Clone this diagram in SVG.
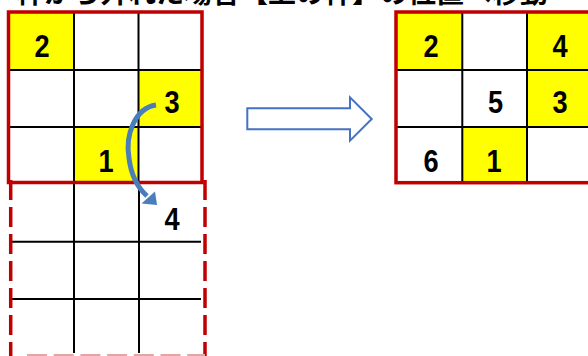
<svg xmlns="http://www.w3.org/2000/svg" width="588" height="356" viewBox="0 0 588 356">
<style>
.title{font-family:"Noto Sans CJK JP","Noto Sans CJK SC",sans-serif;font-size:28px;font-weight:bold;fill:#000}
.num{font-family:"Liberation Sans",Arial,sans-serif;font-size:32px;font-weight:bold;fill:#000;text-anchor:middle}
.yel{fill:#FFFF00}
.grid{stroke:#000;stroke-width:2;fill:none}
.frame{fill:none;stroke:#C00000;stroke-width:3.5}
.dash{fill:none;stroke:#C00000;stroke-width:3.5;stroke-dasharray:20 7}
</style>
<rect width="588" height="356" fill="#fff"/>
<text class="title" x="16" y="3">枠から外れた場合【上の枠】の位置へ移動</text>

<g id="left-grid">
  <rect class="yel" x="8.5" y="12" width="65.5" height="58"/>
  <rect class="yel" x="138.5" y="70" width="63.5" height="57"/>
  <rect class="yel" x="74" y="127" width="64.5" height="55"/>
  <path class="grid" d="M74 12V182M138.5 12V182M8.5 70H202M8.5 127H202"/>
  <rect class="frame" x="8.5" y="12" width="193.5" height="170.5"/>
  <text class="num" transform="translate(42,57) scale(0.85,1)">2</text>
  <text class="num" transform="translate(172,113) scale(0.85,1)">3</text>
  <text class="num" transform="translate(106,172) scale(0.85,1)">1</text>
</g>

<g id="extension">
  <path class="grid" d="M74 184V353M139 184V353M12 241.7H201M12 299H201"/>
  <path class="dash" d="M10.7 180V356"/>
  <path class="dash" d="M205 180V356"/>
  <path d="M27 355H205" fill="none" stroke="#E6A5A5" stroke-width="2" stroke-dasharray="20 6.7"/>
  <text class="num" transform="translate(172,230) scale(0.85,1)">4</text>
</g>

<g id="right-grid">
  <rect class="yel" x="396" y="12" width="66.3" height="58"/>
  <rect class="yel" x="527" y="12" width="66" height="115"/>
  <rect class="yel" x="462.3" y="127" width="64.7" height="55.5"/>
  <path class="grid" d="M462.3 12V182.5M527 12V182.5M396 70H593M396 127H593"/>
  <rect class="frame" x="396" y="12" width="197" height="170.7"/>
  <text class="num" transform="translate(431,57) scale(0.85,1)">2</text>
  <text class="num" transform="translate(560,57) scale(0.85,1)">4</text>
  <text class="num" transform="translate(495.5,113) scale(0.85,1)">5</text>
  <text class="num" transform="translate(560,113) scale(0.85,1)">3</text>
  <text class="num" transform="translate(431,172) scale(0.85,1)">6</text>
  <text class="num" transform="translate(494,172) scale(0.85,1)">1</text>
</g>

<g id="connectors">
  <polygon id="block-arrow" points="247.3,108.3 350,108.3 350,97.3 371.7,119 350,140.7 350,129.3 247.3,129.3" fill="#fff" stroke="#4472C4" stroke-width="2" stroke-linejoin="miter"/>
  <g id="curved-arrow" fill="#4A7EBB">
    <path d="M156 105 C135 108,125 135,129 158 C131 175,137 187,147 196" fill="none" stroke="#4A7EBB" stroke-width="5"/>
    <polygon points="157,205 155,191.5 141.5,203.5"/>
  </g>
</g>
</svg>
